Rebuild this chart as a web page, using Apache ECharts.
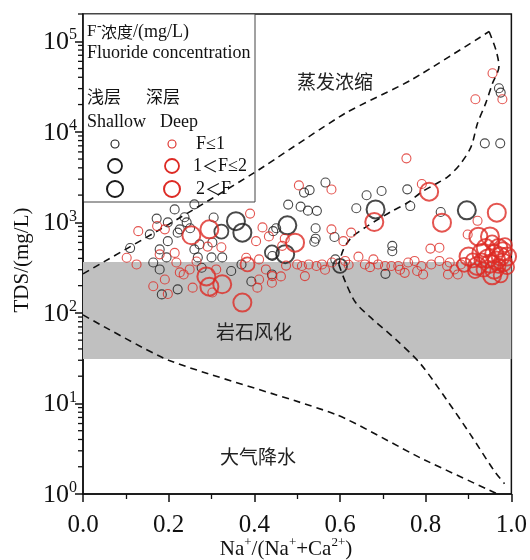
<!DOCTYPE html>
<html><head><meta charset="utf-8">
<script src="https://cdn.jsdelivr.net/npm/echarts@6/dist/echarts.min.js"></script>
<style>html,body{margin:0;padding:0;background:#fff}#c{width:530px;height:560px}</style>
</head><body><div id="c"></div>
<script>
// ---- data: [Na/(Na+Ca), TDS mg/L] ----
const shallowLow = [[0.11,520],[0.164,360],[0.156,737],[0.172,1100],[0.198,1000],[0.214,1390],[0.26,1580],[0.237,1140],[0.242,1000],[0.226,837],[0.221,770],[0.305,1130],[0.25,860],[0.198,620],[0.179,503],[0.26,503],[0.272,571],[0.302,600],[0.325,410],[0.3,410],[0.268,410],[0.195,410],[0.179,302],[0.184,160],[0.221,182],[0.277,315],[0.346,290],[0.37,343],[0.393,222],[0.441,266],
  [0.516,2130],[0.529,2270],[0.566,2750],[0.662,1990],[0.697,2220],[0.757,2315],[0.764,1513],[0.479,1570],[0.508,1490],[0.525,1346],[0.546,1340],[0.638,1430],[0.835,1300],[0.451,860],[0.444,800],[0.543,860],[0.543,660],[0.54,610],[0.587,690],[0.722,550],[0.722,480],[0.706,270],[0.442,425],[0.589,390],
  [0.971,30300],[0.975,27100],[0.938,7460],[0.974,7460]];
const shallowMid = [[0.323,790],[0.441,465],[0.6,330]];
const shallowHigh = [[0.357,1030],[0.372,770],[0.472,445],[0.477,927],[0.683,1390],[0.896,1358]];
const deepLow = [[0.102,407],[0.125,343],[0.129,800],[0.173,910],[0.191,837],[0.39,1250],[0.419,880],[0.179,443],[0.214,460],[0.291,540],[0.323,530],[0.404,620],[0.434,700],[0.218,360],[0.191,234],[0.164,197],[0.198,162],[0.256,190],[0.265,370],[0.302,168],[0.226,280],[0.235,266],[0.249,302],[0.311,302],[0.381,407],[0.411,390],[0.427,302],[0.411,234],[0.407,190],[0.441,215],[0.462,253],[0.474,333],
  [0.755,5090],[0.504,2560],[0.58,2310],[0.791,2650],[0.921,1040],[0.471,660],[0.58,837],[0.608,620],[0.626,770],[0.811,513],[0.832,525],[0.518,255],[0.442,255],[0.465,550],[0.898,735],
  [0.5,343],[0.511,330],[0.527,343],[0.558,343],[0.581,360],[0.612,375],[0.643,418],[0.658,343],[0.678,390],[0.689,343],[0.705,330],[0.72,330],[0.736,330],[0.751,277],[0.759,360],[0.774,375],[0.79,330],[0.794,266],[0.813,343],[0.832,375],[0.856,360],[0.867,302],[0.852,266],[0.875,266],[0.882,343],
  [0.545,330],[0.565,300],[0.62,340],[0.67,320],[0.74,300],[0.78,290],[0.85,330],
  [0.956,44300],[0.979,22900],[0.916,22900]];
const deepMid = [[0.384,343],[0.91,380],[0.935,300],[0.955,600],[0.97,330],[0.985,560],[0.99,320],[0.93,380],[0.915,290],[0.89,340],[0.975,260]];
const deepHigh = [[0.253,720],[0.295,837],[0.288,253],[0.295,195],[0.325,207],[0.372,130],[0.808,2180],[0.68,1008],[0.838,993],[0.966,1280],[0.923,695],[0.495,597],
  [0.9,420],[0.92,330],[0.93,460],[0.94,520],[0.945,400],[0.95,350],[0.96,450],[0.96,300],[0.965,380],[0.97,520],[0.975,420],[0.98,480],[0.98,360],[0.99,420],[0.95,700],[0.955,260]];
// Gibbs boundary curves
const upperLeftCurve = [[0,270],[0.2,950],[0.4,3540],[0.612,16000],[0.766,37300],[0.948,128000]];
const rightUpperCurve = [[0.948,128000],[0.964,80000],[0.971,52600],[0.956,34400],[0.94,20600],[0.921,12400],[0.906,6870],[0.882,4490],[0.852,3200],[0.82,2600],[0.789,2140],[0.759,1660],[0.72,1320],[0.689,1080],[0.659,880],[0.627,683],[0.608,503],[0.597,344]];
const rightLowerCurve = [[0.597,344],[0.613,217],[0.636,131],[0.668,92],[0.732,50],[0.787,27.7],[0.85,10.8],[0.905,4.5],[0.96,1.8],[0.984,1.3]];
const lowerLeftCurve = [[0,95],[0.2,30],[0.592,7.5],[0.788,2.5],[0.968,1.0]];
const weatheringBand = [31, 365];
const yMajorTicks = [1,10,100,1000,10000,100000];
const yMinorTicks = [2,3,4,5,6,7,8,9,20,30,40,50,60,70,80,90,200,300,400,500,600,700,800,900,2000,3000,4000,5000,6000,7000,8000,9000,20000,30000,40000,50000,60000,70000,80000,90000,200000];

const SERIF = '"Liberation Serif","Times New Roman",serif';
const CJK = '"Noto Sans CJK SC",sans-serif';
const BLACK = '#1a1a1a', RED = '#dd2a24';

function sc(name, data, color, size, lw) {
  return { name, type: 'scatter', data, symbol: 'circle', symbolSize: size, z: 5,
    itemStyle: { color: 'rgba(0,0,0,0)', borderColor: color, borderWidth: lw } };
}
function dash(data, smooth) {
  return { type: 'line', data, showSymbol: false, smooth: smooth, z: 4, silent: true,
    lineStyle: { color: '#111', width: 1.6, type: [7, 5] } };
}
const T = (x, y, text, font, size, extra) => ({ type: 'text', x, y, style: Object.assign({ text, fontFamily: font, fontSize: size, fill: '#111', verticalAlign: 'middle' }, extra || {}) });

const chart = echarts.init(document.getElementById('c'));
chart.setOption({
  animation: false,
  backgroundColor: '#fff',
  grid: { left: 83, right: 16, top: 14, bottom: 66, show: true, borderColor: '#111', borderWidth: 1.5 },
  xAxis: { type: 'value', min: 0, max: 1, interval: 0.2,
    axisLine: { lineStyle: { color: '#111', width: 1.5 } },
    axisTick: { length: 8, lineStyle: { color: '#111', width: 1.5 } },
    minorTick: { show: true, splitNumber: 2, length: 5, lineStyle: { color: '#111', width: 1.3 } },
    axisLabel: { fontFamily: SERIF, fontSize: 25, color: '#111', margin: 19, formatter: v => v.toFixed(1) },
    splitLine: { show: false } },
  yAxis: { type: 'log', min: 1, max: 200000,
    axisLine: { lineStyle: { color: '#111', width: 1.5 } },
    axisTick: { length: 8, lineStyle: { color: '#111', width: 1.5 }, customValues: yMajorTicks },
    axisLabel: { margin: 6, customValues: yMajorTicks,
      formatter: v => '{b|10}{s|' + Math.round(Math.log10(v)) + '}',
      rich: { b: { fontFamily: SERIF, fontSize: 26, color: '#111', lineHeight: 28, verticalAlign: 'bottom' },
              s: { fontFamily: SERIF, fontSize: 16, color: '#111', lineHeight: 28, verticalAlign: 'top' } } },
    splitLine: { show: false } },
  series: [
    { type: 'line', data: [], z: 1, silent: true,
      markArea: { silent: true, itemStyle: { color: '#c0c0c0' },
        data: [[{ xAxis: 0, yAxis: weatheringBand[0] }, { xAxis: 1, yAxis: weatheringBand[1] }]] } },
    { type: 'custom', data: yMinorTicks.map(v => [0, v]), clip: false, silent: true, z: 6,
      renderItem: (params, api) => { const p = api.coord([0, api.value(1)]);
        return { type: 'line', shape: { x1: p[0] - 5, y1: p[1], x2: p[0], y2: p[1] }, style: { stroke: '#111', lineWidth: 1.3 } }; } },
    dash(upperLeftCurve, 0.2), dash(rightUpperCurve, 0.3), dash(rightLowerCurve, 0.3), dash(lowerLeftCurve, 0.2),
    sc('浅层 F≤1', shallowLow, BLACK, 9, 1.1),
    sc('浅层 1<F≤2', shallowMid, BLACK, 14, 1.8),
    sc('浅层 2<F', shallowHigh, BLACK, 18, 2),
    sc('深层 F≤1', deepLow, RED, 9, 1.1),
    sc('深层 1<F≤2', deepMid, RED, 14, 1.8),
    sc('深层 2<F', deepHigh, RED, 18, 2)
  ],
  graphic: [
    { type: 'group', z: 100, children: [
      { type: 'rect', shape: { x: 83, y: 14, width: 172, height: 188 }, style: { fill: '#fff', stroke: '#444', lineWidth: 1 } },
      T(87, 32, 'F', SERIF, 17),
      T(97, 26, '-', SERIF, 14),
      T(101, 32, '浓度', CJK, 16),
      T(133, 32, '/(mg/L)', SERIF, 18),
      T(87, 53, 'Fluoride concentration', SERIF, 18),
      T(87, 97, '浅层', CJK, 17),
      T(146, 97, '深层', CJK, 17),
      T(87, 122, 'Shallow', SERIF, 18),
      T(160, 122, 'Deep', SERIF, 18),
      { type: 'circle', shape: { cx: 115, cy: 144, r: 4 }, style: { fill: 'none', stroke: BLACK, lineWidth: 1.1 } },
      { type: 'circle', shape: { cx: 115, cy: 166, r: 7 }, style: { fill: 'none', stroke: BLACK, lineWidth: 1.8 } },
      { type: 'circle', shape: { cx: 115, cy: 189, r: 8 }, style: { fill: 'none', stroke: BLACK, lineWidth: 2 } },
      { type: 'circle', shape: { cx: 172, cy: 144, r: 4 }, style: { fill: 'none', stroke: RED, lineWidth: 1.1 } },
      { type: 'circle', shape: { cx: 172, cy: 166, r: 7 }, style: { fill: 'none', stroke: RED, lineWidth: 1.8 } },
      { type: 'circle', shape: { cx: 172, cy: 189, r: 8 }, style: { fill: 'none', stroke: RED, lineWidth: 2 } },
      T(196, 144, 'F≤1', SERIF, 18),
      { type: 'text', x: 193, y: 166, style: { text: '{a|1}{b|＜}{a|F≤2}', verticalAlign: 'middle', rich: { a: { fontFamily: SERIF, fontSize: 18, fill: '#111' }, b: { fontFamily: CJK, fontSize: 16, fill: '#111' } } } },
      { type: 'text', x: 196, y: 189, style: { text: '{a|2}{b|＜}{a|F}', verticalAlign: 'middle', rich: { a: { fontFamily: SERIF, fontSize: 18, fill: '#111' }, b: { fontFamily: CJK, fontSize: 16, fill: '#111' } } } }
    ] },
    { type: 'text', x: 335, y: 82, z: 50, style: { text: '蒸发浓缩', fontFamily: CJK, fontSize: 19, fill: '#222', align: 'center', verticalAlign: 'middle' } },
    { type: 'text', x: 254, y: 332, z: 50, style: { text: '岩石风化', fontFamily: CJK, fontSize: 19, fill: '#222', align: 'center', verticalAlign: 'middle' } },
    { type: 'text', x: 258, y: 457, z: 50, style: { text: '大气降水', fontFamily: CJK, fontSize: 19, fill: '#222', align: 'center', verticalAlign: 'middle' } },
    { type: 'text', x: 22, y: 260, rotation: Math.PI / 2, z: 50, style: { text: 'TDS/(mg/L)', fontFamily: SERIF, fontSize: 21, fill: '#111', align: 'center', verticalAlign: 'middle' } },
    { type: 'text', x: 286, y: 548, z: 50, style: { text: '{t|Na}{s|+}{t|/(Na}{s|+}{t|+Ca}{s|2+}{t|)}', align: 'center', verticalAlign: 'middle',
        rich: { t: { fontFamily: SERIF, fontSize: 21, fill: '#111', lineHeight: 24, verticalAlign: 'bottom' }, s: { fontFamily: SERIF, fontSize: 13, fill: '#111', lineHeight: 24, verticalAlign: 'top' } } } }
  ]
});
</script></body></html>
